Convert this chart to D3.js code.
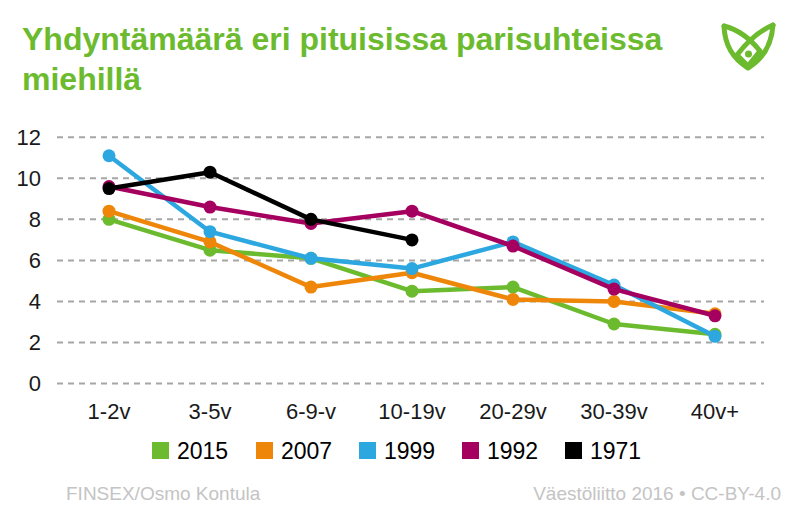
<!DOCTYPE html>
<html>
<head>
<meta charset="utf-8">
<script src="https://cdn.jsdelivr.net/npm/d3@7"></script>
<style>
  html, body { margin: 0; padding: 0; background: #fff; }
  svg { display: block; font-family: "Liberation Sans", Arial, sans-serif; }
</style>
</head>
<body>
<svg id="chart" width="800" height="532"></svg>
<script>
// ---- Data ----
const categories = ["1-2v", "3-5v", "6-9-v", "10-19v", "20-29v", "30-39v", "40v+"];
const seriesNames = ["2015", "2007", "1999", "1992", "1971"];
const values2015 = [8.0, 6.5, 6.1, 4.5, 4.7, 2.9, 2.4];
const values2007 = [8.4, 6.9, 4.7, 5.4, 4.1, 4.0, 3.4];
const values1999 = [11.1, 7.4, 6.1, 5.6, 6.9, 4.8, 2.3];
const values1992 = [9.6, 8.6, 7.8, 8.4, 6.7, 4.6, 3.3];
const values1971 = [9.5, 10.3, 8.0, 7.0, null, null, null];
const yTicks = [0, 2, 4, 6, 8, 10, 12];
const seriesColors = ["#6cbb2f", "#ee8709", "#2ca7e0", "#a5005f", "#000000"];
const titleLines = ["Yhdyntämäärä eri pituisissa parisuhteissa", "miehillä"];
const sourceLeft = "FINSEX/Osmo Kontula";
const sourceRight = "Väestöliitto 2016 • CC-BY-4.0";

const seriesValues = [values2015, values2007, values1999, values1992, values1971];
const series = seriesNames.map((name, i) => ({ name, color: seriesColors[i], values: seriesValues[i] }));

// ---- Layout ----
const svg = d3.select("#chart");
const x = d3.scaleBand().domain(categories).range([58.5, 765.5]);
const y = d3.scaleLinear().domain([0, 12]).range([383.5, 137.3]);

// Title
svg.append("g").selectAll("text").data(titleLines).join("text")
  .attr("x", 22)
  .attr("y", (d, i) => 50 + i * 40)
  .attr("fill", "#6cbb2f")
  .attr("font-size", 32)
  .attr("font-weight", "bold")
  .text(d => d);

// Logo
const logo = svg.append("g").attr("transform", "translate(720,21)")
  .attr("fill", "none").attr("stroke", "#6cbb2f").attr("stroke-width", 5)
  .attr("stroke-linejoin", "round").attr("stroke-linecap", "round");
logo.append("path").attr("d", "M4,5 Q5,33 28,47 Q51,33 53,4");
logo.append("path").attr("d", "M4,5 Q24,10 40,30");
logo.append("path").attr("d", "M53,4 Q34,12 17,34");
logo.append("path").attr("d", "M17,34 L28,45 L40,30");
logo.append("circle").attr("cx", 28.5).attr("cy", 33).attr("r", 3.5).attr("fill", "#6cbb2f").attr("stroke", "none");

// Gridlines
svg.append("g").selectAll("line").data(yTicks).join("line")
  .attr("x1", x.range()[0] - 1.5).attr("x2", x.range()[1] - 1.5)
  .attr("y1", d => y(d)).attr("y2", d => y(d))
  .attr("stroke", "#a6a6a6").attr("stroke-width", 2)
  .attr("stroke-dasharray", "6,5");

// Y axis labels
const yAxis = d3.axisLeft(y).tickValues(yTicks).tickSize(0).tickPadding(0).tickFormat(d3.format("d"));
const gy = svg.append("g").attr("transform", "translate(41,0)").call(yAxis);
gy.select(".domain").remove();
gy.selectAll("text").attr("font-size", 22).attr("fill", "#1a1a1a")
  .attr("font-family", "'Liberation Sans', Arial, sans-serif");

// X axis labels
const xAxis = d3.axisBottom(x).tickSize(0).tickPadding(0);
const gx = svg.append("g").attr("transform", "translate(0,398)").call(xAxis);
gx.select(".domain").remove();
gx.selectAll("text").attr("font-size", 22).attr("fill", "#1a1a1a")
  .attr("dy", "0.95em")
  .attr("font-family", "'Liberation Sans', Arial, sans-serif");

// Lines
const line = d3.line()
  .defined(d => d.v != null)
  .x(d => x(d.c) + x.bandwidth() / 2)
  .y(d => y(d.v));

const sg = svg.append("g").selectAll("g").data(series).join("g");
sg.append("path")
  .attr("d", s => line(categories.map((c, i) => ({ c, v: s.values[i] }))))
  .attr("fill", "none").attr("stroke", s => s.color)
  .attr("stroke-width", 4.5).attr("stroke-linejoin", "round");
sg.selectAll("circle")
  .data(s => categories.map((c, i) => ({ c, v: s.values[i], color: s.color })).filter(d => d.v != null))
  .join("circle")
  .attr("cx", d => x(d.c) + x.bandwidth() / 2)
  .attr("cy", d => y(d.v))
  .attr("r", 6.5)
  .attr("fill", d => d.color);

// Legend
const legendX = [152, 256, 359, 462, 565];
const lg = svg.append("g").selectAll("g").data(series).join("g")
  .attr("transform", (d, i) => `translate(${legendX[i]},442)`);
lg.append("rect").attr("width", 17).attr("height", 17).attr("fill", d => d.color);
lg.append("text").attr("x", 25).attr("y", 17).attr("font-size", 23).attr("fill", "#000").text(d => d.name);

// Sources
svg.append("text").attr("x", 66).attr("y", 500).attr("font-size", 19).attr("fill", "#c4c4c4").text(sourceLeft);
svg.append("text").attr("x", 781).attr("y", 500).attr("text-anchor", "end").attr("font-size", 19).attr("fill", "#c4c4c4").text(sourceRight);
</script>
</body>
</html>
